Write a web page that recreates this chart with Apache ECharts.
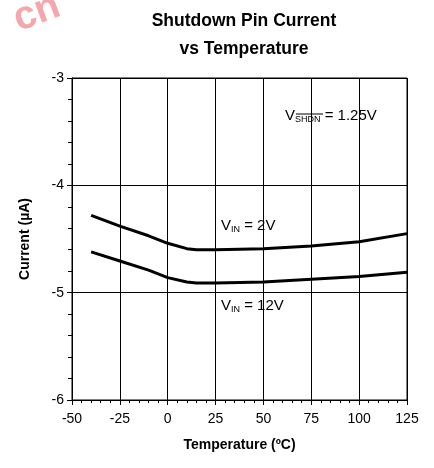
<!DOCTYPE html>
<html>
<head>
<meta charset="utf-8">
<script src="https://cdn.jsdelivr.net/npm/echarts@6/dist/echarts.min.js"></script>
<style>
  html, body { margin: 0; padding: 0; background: #fff; }
  #chart { width: 434px; height: 468px; }
</style>
</head>
<body>
<div id="chart"></div>
<script>
// temperature (ºC)
const temps = [-40, -25, -10, 0, 10, 15, 25, 50, 75, 100, 125];
// shutdown pin current (uA)
const vin2V = [-4.28, -4.38, -4.47, -4.54, -4.59, -4.60, -4.60, -4.59, -4.565, -4.525, -4.45];
const vin12V = [-4.62, -4.705, -4.79, -4.86, -4.90, -4.91, -4.91, -4.90, -4.875, -4.85, -4.81];

const font = 'Liberation Sans, Arial, sans-serif';

var myChart = echarts.init(document.getElementById('chart'));

const toPts = (ys) => temps.map((t, i) => [t, ys[i]]);

// small rich-text styles for V with subscript
const richSub = {
    v: { fontFamily: font, fontSize: 15, fill: '#000' },
    s: { fontFamily: font, fontSize: 9, fill: '#000', padding: [8, 0, 0, 0] },
};

var option = {
    animation: false,
    title: {
        text: 'Shutdown Pin Current\nvs Temperature',
        left: 239,
        textAlign: 'center',
        top: 2,
        textStyle: {
            fontFamily: font,
            fontSize: 17.5,
            fontWeight: 'bold',
            color: '#000',
            lineHeight: 28,
        },
    },
    grid: {
        left: 72,
        right: 27,
        top: 78,
        bottom: 68,
        show: true,
        borderColor: '#000',
        borderWidth: 1,
    },
    xAxis: {
        type: 'value',
        min: -50,
        max: 125,
        interval: 25,
        name: 'Temperature (ºC)',
        nameLocation: 'middle',
        nameGap: 38,
        nameTextStyle: { fontFamily: font, fontSize: 14, fontWeight: 'bold', color: '#000' },
        axisLine: { show: true, onZero: false, lineStyle: { color: '#000', width: 1 } },
        axisTick: { show: true, length: 5, lineStyle: { color: '#000' } },
        minorTick: { show: true, splitNumber: 5, length: 3, lineStyle: { color: '#000' } },
        axisLabel: { fontFamily: font, fontSize: 14, color: '#000', margin: 12 },
        splitLine: { show: true, lineStyle: { color: '#000', width: 1 } },
    },
    yAxis: {
        type: 'value',
        min: -6,
        max: -3,
        interval: 1,
        name: 'Current (µA)',
        nameLocation: 'middle',
        nameGap: 40,
        nameRotate: 90,
        nameTextStyle: { fontFamily: font, fontSize: 14, fontWeight: 'bold', color: '#000' },
        axisLine: { show: true, onZero: false, lineStyle: { color: '#000', width: 1 } },
        axisTick: { show: true, length: 5, lineStyle: { color: '#000' } },
        minorTick: { show: true, splitNumber: 5, length: 4, lineStyle: { color: '#000' } },
        axisLabel: { fontFamily: font, fontSize: 14, color: '#000', margin: 8 },
        splitLine: { show: true, lineStyle: { color: '#000', width: 1 } },
    },
    series: [
        {
            name: 'VIN = 2V',
            type: 'line',
            data: toPts(vin2V),
            showSymbol: false,
            lineStyle: { color: '#000', width: 3 },
        },
        {
            name: 'VIN = 12V',
            type: 'line',
            data: toPts(vin12V),
            showSymbol: false,
            lineStyle: { color: '#000', width: 3 },
        },
    ],
    graphic: [
        {
            type: 'text',
            left: 8,
            top: -14,
            rotation: 0.35,
            style: {
                text: 'cn',
                fontFamily: font,
                fontSize: 40,
                fontWeight: 'bold',
                fill: 'rgba(236,110,118,0.6)',
            },
        },
        {
            type: 'text',
            left: 221,
            top: 218,
            style: { rich: richSub, text: '{v|V}{s|IN}{v| = 2V}' },
        },
        {
            type: 'text',
            left: 221,
            top: 298,
            style: { rich: richSub, text: '{v|V}{s|IN}{v| = 12V}' },
        },
        {
            type: 'text',
            left: 285,
            top: 108,
            style: { rich: richSub, text: '{v|V}{s|SHDN}{v| = 1.25V}' },
        },
        {
            type: 'line',
            shape: { x1: 296, y1: 114, x2: 323, y2: 114 },
            style: { stroke: '#000', lineWidth: 1 },
        },
    ],
};

myChart.setOption(option);
</script>
</body>
</html>
